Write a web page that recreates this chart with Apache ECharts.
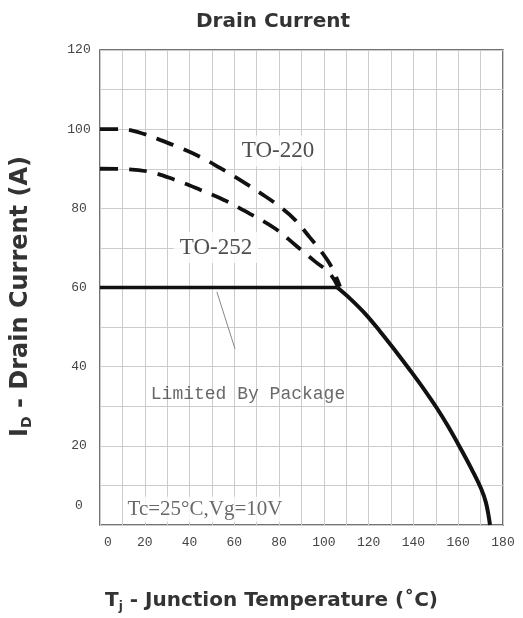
<!DOCTYPE html>
<html><head><meta charset="utf-8">
<script src="https://cdn.jsdelivr.net/npm/echarts@6/dist/echarts.min.js"></script>
<style>html,body{margin:0;padding:0;background:#fff}#c{width:523px;height:618px}</style>
</head><body><div id="c"></div>
<script>
// Data
var to220 = [[0,100],[8.9,100],[17.9,99.1],[26.8,97.3],[35.7,95.3],[44.7,93.0],[53.6,90.2],[62.5,87.2],[71.5,83.9],[80.4,80.4],[87.1,77.1],[93.8,72.6],[99.2,68.8],[103.6,65.0],[107.2,60.2]];
var to252 = [[0,90],[11.2,89.9],[22.3,89.2],[33.5,87.2],[44.7,84.7],[55.8,82.0],[67,78.6],[78.2,74.9],[87.1,70.8],[96,66.6],[102.7,63.5],[106.3,60.2]];
var packageLimit = [[0,60],[106,60]];
var deratingCurve = [[106,60],[111.7,57.2],[118.4,53.4],[125.1,48.9],[131.8,44.1],[138.5,39.1],[145.2,33.9],[150.5,29.5],[155.4,25.0],[160.8,19.6],[166.1,14.0],[170.2,9.2],[172.4,5.6],[174.2,0]];
var leader = [[52.2,58.9],[60.3,44.5]];
var xTicks = [0,20,40,60,80,100,120,140,160,180];
var yTicks = [0,20,40,60,80,100,120];
var notes = [
  {name:'TO-220', value:[79.5,94.5]},
  {name:'TO-252', value:[51.8,70.1]},
  {name:'Limited By Package', value:[66.1,33]},
  {name:'Tc=25°C,Vg=10V', value:[46.9,4]}
];

var noteStyles = {
  'TO-220': {fontFamily:'Liberation Serif', fontSize:23, color:'#222', backgroundColor:'#fff', padding:[4,6]},
  'TO-252': {fontFamily:'Liberation Serif', fontSize:23, color:'#222', backgroundColor:'#fff', padding:[4,6]},
  'Limited By Package': {fontFamily:'Liberation Mono', fontSize:18, color:'#444'},
  'Tc=25°C,Vg=10V': {fontFamily:'Liberation Serif', fontSize:21, color:'#444', backgroundColor:'#fff', padding:[2,3]}
};
var noteData = notes.map(function(n){
  return {name:n.name, value:n.value, label:Object.assign({show:true, position:'inside', formatter:'{b}'}, noteStyles[n.name])};
});

var chart = echarts.init(document.getElementById('c'), null, {renderer:'canvas'});
chart.setOption({
  animation:false,
  backgroundColor:'#fff',
  title:{text:'Drain Current', left:268, top:7, textAlign:'center',
    textStyle:{fontFamily:'DejaVu Sans', fontWeight:'bold', fontSize:20, color:'#333'}},
  grid:{left:100, right:20, top:50, bottom:92, show:true, borderColor:'#444', borderWidth:1.5, backgroundColor:'transparent'},
  xAxis:{type:'value', min:0, max:180, interval:10,
    axisLine:{show:false}, axisTick:{show:false},
    splitLine:{show:true, lineStyle:{color:'#cccccc', width:1}},
    axisLabel:{margin:11, fontFamily:'Liberation Mono', fontSize:13, color:'#444',
      formatter:function(v){ if(xTicks.indexOf(v)<0) return ''; return v===0?'{z|0}':String(v); },
      rich:{z:{padding:[0,0,0,16], fontFamily:'Liberation Mono', fontSize:13, color:'#444'}}},
    name:'{a|T}{s|j}{a| - Junction Temperature (˚C)}', nameLocation:'middle', nameGap:64,
    nameTextStyle:{padding:[0,60,0,0], rich:{
      a:{fontFamily:'DejaVu Sans', fontWeight:'bold', fontSize:20, color:'#333'},
      s:{fontFamily:'DejaVu Sans', fontWeight:'bold', fontSize:12, color:'#333', padding:[12,0,0,0]}}}
  },
  yAxis:{type:'value', min:0, max:120, interval:10,
    axisLine:{show:false}, axisTick:{show:false},
    splitLine:{show:true, lineStyle:{color:'#cccccc', width:1}},
    axisLabel:{margin:21, align:'center', fontFamily:'Liberation Mono', fontSize:13, color:'#444',
      formatter:function(v){ if(yTicks.indexOf(v)<0) return ''; return v===0?'{z|0}':String(v); },
      rich:{z:{padding:[0,0,38,0], fontFamily:'Liberation Mono', fontSize:13, color:'#444'}}},
    name:'{a|I}{s|D}{a| - Drain Current (A)}', nameLocation:'middle', nameGap:66, nameRotate:90,
    nameTextStyle:{padding:[0,18,0,0], rich:{
      a:{fontFamily:'DejaVu Sans', fontWeight:'bold', fontSize:24, color:'#333'},
      s:{fontFamily:'DejaVu Sans', fontWeight:'bold', fontSize:14, color:'#333', padding:[13,0,0,0]}}}
  },
  series:[
    {type:'line', data:leader, symbol:'none', lineStyle:{color:'#888', width:1}, z:2},
    {type:'line', data:to220, symbol:'none', smooth:0.4, lineStyle:{color:'#111', width:3.8, type:[18,11]}, z:3},
    {type:'line', data:to252, symbol:'none', smooth:0.4, lineStyle:{color:'#111', width:3.8, type:[18,11]}, z:3},
    {type:'line', data:packageLimit, symbol:'none', lineStyle:{color:'#111', width:3.5}, z:4},
    {type:'line', data:deratingCurve, symbol:'none', smooth:0.4, lineStyle:{color:'#111', width:4}, z:4},
    {type:'scatter', data:noteData, symbolSize:0, z:5, silent:true, emphasis:{disabled:true}}
  ]
});
</script>
</body></html>
